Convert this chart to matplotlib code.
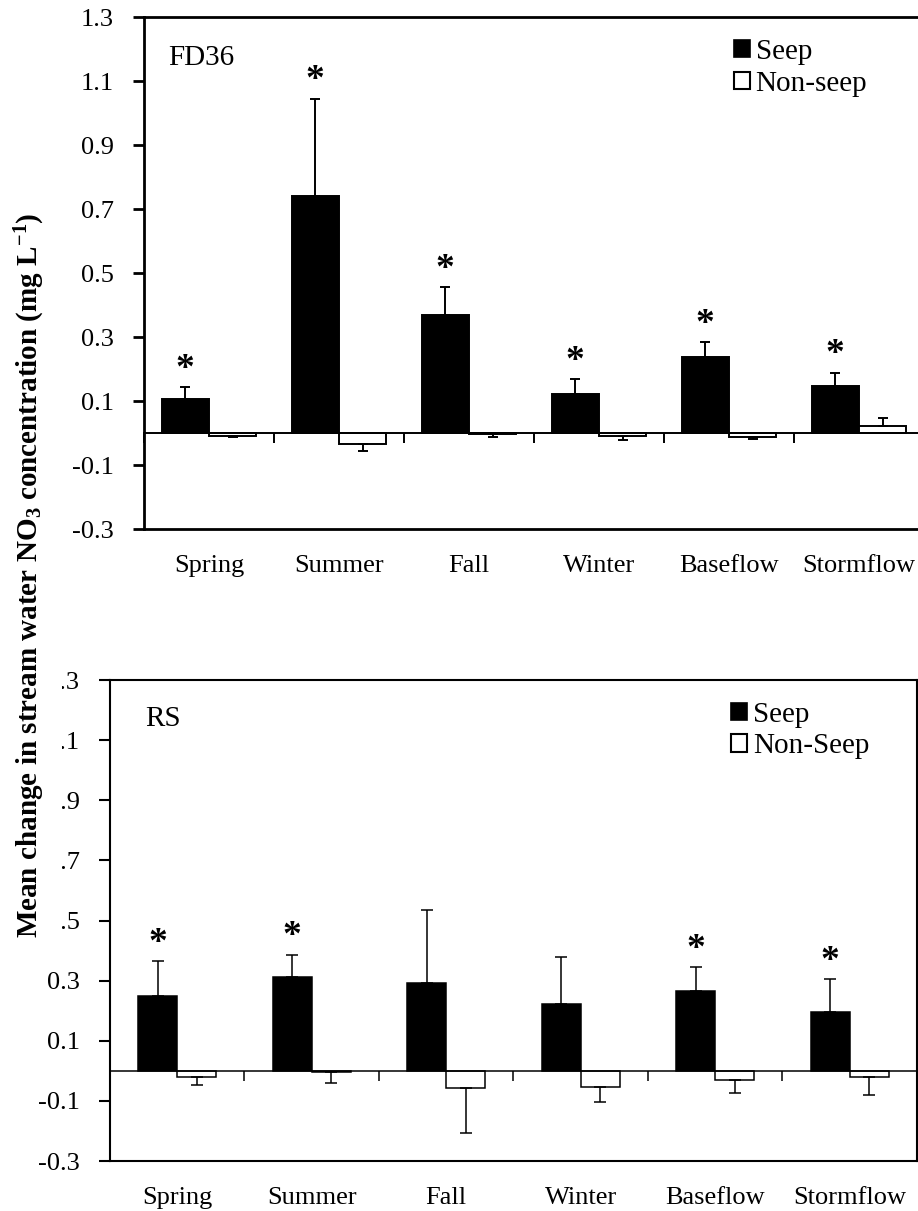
import numpy as np
import matplotlib.pyplot as plt
from matplotlib.patches import Patch
from matplotlib.ticker import FormatStrFormatter

plt.rcParams['font.family'] = 'Liberation Serif'
plt.rcParams['axes.unicode_minus'] = False
plt.rcParams['mathtext.fontset'] = 'custom'
plt.rcParams['mathtext.rm'] = 'Liberation Serif:bold'
plt.rcParams['mathtext.it'] = 'Liberation Serif:bold:italic'
plt.rcParams['mathtext.bf'] = 'Liberation Serif:bold'

# categorías del eje x (estaciones y régimen de caudal)
categorias = ['Spring', 'Summer', 'Fall', 'Winter', 'Baseflow', 'Stormflow']

# FD36: cambio medio de NO3 (mg/L) y error estándar
fd36_seep = [0.105, 0.742, 0.370, 0.123, 0.238, 0.147]
fd36_seep_err = [0.038, 0.302, 0.085, 0.045, 0.045, 0.041]
fd36_nonseep = [-0.008, -0.035, -0.004, -0.008, -0.012, 0.022]
fd36_nonseep_err = [0.005, 0.020, 0.008, 0.013, 0.007, 0.025]
fd36_sig = [True, True, True, True, True, True]

# RS
rs_seep = [0.249, 0.313, 0.293, 0.221, 0.265, 0.195]
rs_seep_err = [0.115, 0.073, 0.242, 0.156, 0.080, 0.109]
rs_nonseep = [-0.022, -0.003, -0.058, -0.055, -0.032, -0.021]
rs_nonseep_err = [0.025, 0.038, 0.150, 0.049, 0.042, 0.059]
rs_sig = [True, True, False, False, True, True]

yticks = np.round(np.arange(-0.3, 1.31, 0.2), 1)

W, H = 918, 1211
fig = plt.figure(figsize=(W / 100, H / 100), dpi=100)


def panel(ax, seep, seep_err, nonseep, nonseep_err, sig, tag, etiquetas,
          ancho, lw_marco, lw_linea, cap, pos_leyenda, pos_tag):
    x = np.arange(len(categorias)) + 0.5
    seep = np.asarray(seep)
    seep_err = np.asarray(seep_err)
    nonseep = np.asarray(nonseep)
    nonseep_err = np.asarray(nonseep_err)
    x_seep = x - ancho / 2
    x_non = x + ancho / 2

    ax.bar(x_seep, seep, ancho, color='black', edgecolor='black',
           linewidth=lw_linea, zorder=2)
    ax.bar(x_non, nonseep, ancho, color='white', edgecolor='black',
           linewidth=lw_linea, zorder=2)

    # barras de error de un solo lado (hacia afuera de la barra)
    for vals, errs, xs in ((seep, seep_err, x_seep), (nonseep, nonseep_err, x_non)):
        lo = np.where(vals < 0, errs, 0)
        hi = np.where(vals >= 0, errs, 0)
        ax.errorbar(xs, vals, yerr=[lo, hi], fmt='none', ecolor='black',
                    elinewidth=lw_linea, capsize=cap, capthick=lw_linea, zorder=3)

    # asteriscos de significancia
    for xi, yi, s in zip(x_seep, seep + seep_err, sig):
        if s:
            ax.annotate('*', (xi, yi), xytext=(0, 13), textcoords='offset points',
                        ha='center', va='center', fontsize=27, fontweight='bold')

    ax.set_xlim(0, len(categorias))
    ax.set_ylim(-0.3, 1.3)
    ax.set_yticks(yticks)
    ax.yaxis.set_major_formatter(FormatStrFormatter('%.1f'))

    # eje de categorías en y = 0
    ax.spines['bottom'].set_position(('data', 0))
    ax.spines['bottom'].set_linewidth(lw_linea)
    for lado in ('left', 'top', 'right'):
        ax.spines[lado].set_linewidth(lw_marco)
    ax.set_xticks(np.arange(len(categorias) + 1))
    ax.set_xticklabels([])
    ax.tick_params(axis='x', direction='out', length=7, width=lw_linea)
    ax.tick_params(axis='y', direction='out', length=8, width=lw_marco,
                   labelsize=19, pad=13.5)

    # marco inferior con los nombres de las categorías
    sec = ax.secondary_xaxis('bottom')
    sec.set_xticks(x, categorias)
    sec.tick_params(length=0, labelsize=19, pad=19)
    sec.spines['bottom'].set_linewidth(lw_marco)

    manijas = [Patch(facecolor='black', edgecolor='black', linewidth=1.2),
               Patch(facecolor='white', edgecolor='black', linewidth=1.5)]
    ax.legend(manijas, etiquetas, loc='upper left', bbox_to_anchor=pos_leyenda,
              frameon=False, fontsize=21, handlelength=0.55, handleheight=0.55,
              handletextpad=0.2, labelspacing=0.2, borderpad=0, borderaxespad=0)

    ax.text(pos_tag[0], pos_tag[1], tag, transform=ax.transAxes, fontsize=21,
            ha='left', va='center')


ax1 = fig.add_axes([144 / W, 1 - 529 / H, 780 / W, 512 / H])
panel(ax1, fd36_seep, fd36_seep_err, fd36_nonseep, fd36_nonseep_err, fd36_sig,
      'FD36', ['Seep', 'Non-seep'], 0.365, 2.0, 1.4, 3.5,
      (0.756, 0.957), (0.031, 0.92))

ax2 = fig.add_axes([110 / W, 1 - 1161 / H, 807 / W, 481 / H])
panel(ax2, rs_seep, rs_seep_err, rs_nonseep, rs_nonseep_err, rs_sig,
      'RS', ['Seep', 'Non-Seep'], 0.29, 1.5, 1.1, 4,
      (0.7695, 0.955), (0.0434, 0.918))

fig.text(30 / W, 1 - 575 / H,
         r'Mean change in stream water NO$_\mathrm{3}$ concentration (mg L$^\mathrm{-1}$)',
         rotation=90, ha='center', va='center', fontsize=21, fontweight='bold',
         bbox=dict(facecolor='white', edgecolor='none', pad=11), zorder=10)

fig.savefig('out.png', dpi=100)
